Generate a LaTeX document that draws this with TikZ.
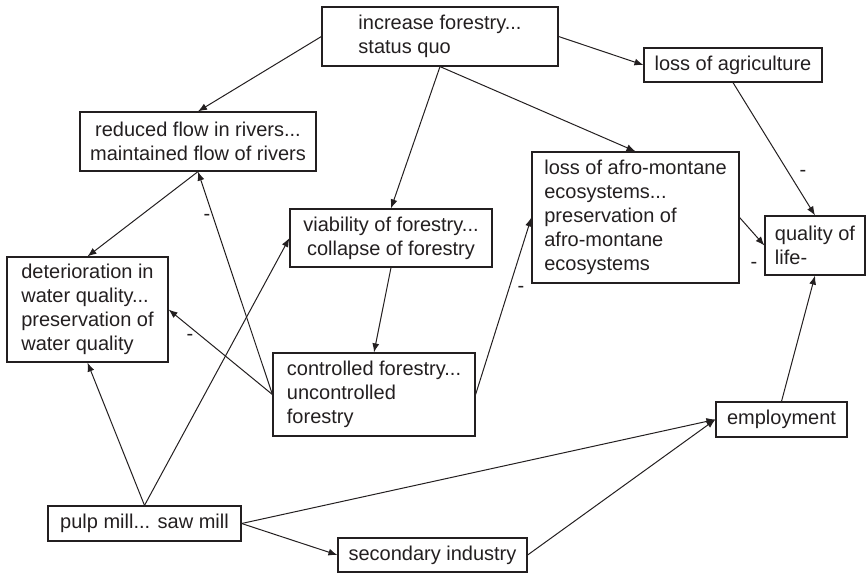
\documentclass[tikz,border=0pt]{standalone}
\usepackage{fontspec}
\setmainfont{Liberation Sans}
\usetikzlibrary{arrows.meta}
\definecolor{ink}{RGB}{35,31,32}
\tikzset{
  box/.style={draw=ink, line width=1.2pt, inner sep=0pt, text=ink,
    font=\fontsize{20}{24}\selectfont},
  conn/.style={draw=ink, line width=1pt, -{Latex[length=9pt,width=7pt]}},
  lbl/.style={inner sep=0pt, text=ink, font=\fontsize{20}{24}\selectfont}
}
\begin{document}
\begin{tikzpicture}[x=1pt,y=-1pt]
\useasboundingbox (0,0) rectangle (866,573);
\node[box, align=left, minimum width=236, minimum height=59] (inc) at (440,36.5) {increase forestry...\\status quo};
\node[box, align=center, minimum width=236, minimum height=59] (riv) at (198,141.5) {reduced flow in rivers...\\maintained flow of rivers};
\node[box, align=center, minimum width=202, minimum height=58] (via) at (391,238) {viability of forestry...\\collapse of forestry};
\node[box, align=left, minimum width=161, minimum height=105] (wat) at (87.5,309.5) {deterioration in\\water quality...\\preservation of\\water quality};
\node[box, align=left, minimum width=202, minimum height=83] (con) at (374,394.5) {controlled forestry...\\uncontrolled\\forestry};
\node[box, align=left, minimum width=207, minimum height=131] (afro) at (635.5,217.5) {loss of afro-montane\\ecosystems...\\preservation of\\afro-montane\\ecosystems};
\node[box, minimum width=178, minimum height=34] (agr) at (733,65) {loss of agriculture};
\node[box, align=left, minimum width=100, minimum height=59] (qol) at (815,245.5) {quality of\\life-};
\node[box, minimum width=131, minimum height=35] (emp) at (781.5,419.5) {employment};
\node[box, minimum width=193, minimum height=35] (pulp) at (144.5,523.5) {pulp mill... saw mill};
\node[box, minimum width=189, minimum height=34] (sec) at (432.5,555) {secondary industry};

\draw[conn] (inc.west) -- (riv.north);
\draw[conn] (inc.south) -- (via.north);
\draw[conn] (inc.south) -- (afro.north);
\draw[conn] (inc.east) -- (agr.west);
\draw[conn] (agr.south) -- (qol.north);
\draw[conn] (afro.east) -- (qol.west);
\draw[conn] (emp.north) -- (qol.south);
\draw[conn] (con.east) -- (afro.west);
\draw[conn] (via.south) -- (con.north);
\draw[conn] (con.west) -- (riv.south);
\draw[conn] (con.west) -- (wat.east);
\draw[conn] (riv.south) -- (wat.north);
\draw[conn] (pulp.north) -- (wat.south);
\draw[conn] (pulp.north) -- (via.west);
\draw[conn] (pulp.east) -- (emp.west);
\draw[conn] (pulp.east) -- (sec.west);
\draw[conn] (sec.east) -- (emp.west);

\node[lbl] (m1) at (207,217) {-};
\node[lbl] (m2) at (190,337) {-};
\node[lbl] (m3) at (521,289) {-};
\node[lbl] (m4) at (803,173) {-};
\node[lbl] (m5) at (754,265) {-};
\end{tikzpicture}
\end{document}
